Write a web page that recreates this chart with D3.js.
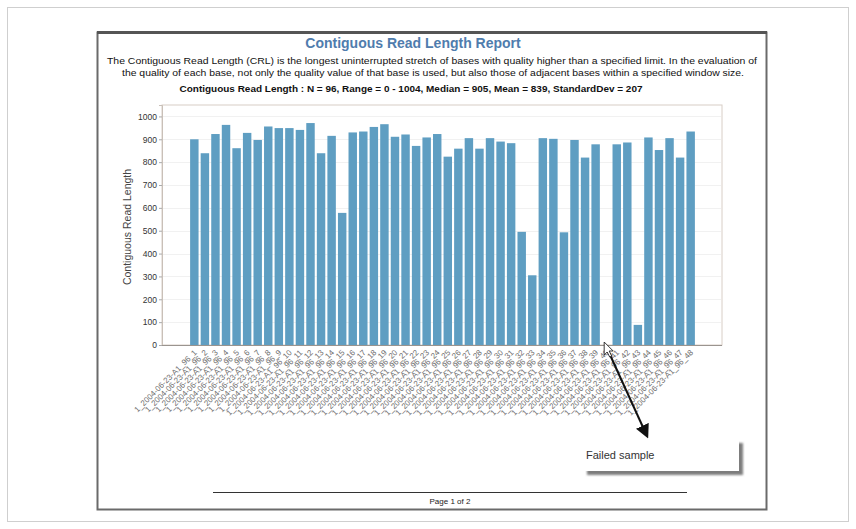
<!DOCTYPE html>
<html>
<head>
<meta charset="utf-8">
<script src="https://cdn.jsdelivr.net/npm/d3@7"></script>
<style>
  html, body { margin: 0; padding: 0; background: #fff; }
  svg { display: block; font-family: Arial, "Liberation Sans", Helvetica, sans-serif; }
</style>
</head>
<body>
<svg id="chart" width="856" height="529"></svg>
<script>
// Sample numbers (1..48) on the x axis
const sampleIds = d3.range(1, 49);
const sampleLabels = sampleIds.map(i => `1_2004-06-23-A1_96_${i}`);

// Contiguous read length per sample (0 = failed read)
const readLengths = [
  900, 839, 923, 963, 861, 928, 897, 956, 949, 949, 941, 971,
  839, 915, 578, 930, 934, 954, 966, 911, 921, 871, 908, 923,
  824, 859, 905, 859, 905, 890, 883, 495, 305, 905, 902, 493,
  897, 820, 878, 0, 878, 886, 88, 908, 853, 905, 820, 934
];

// Y axis ticks
const yTicks = [0, 100, 200, 300, 400, 500, 600, 700, 800, 900, 1000];

const titleText = "Contiguous Read Length Report";
const descLines = [
  "The Contiguous Read Length (CRL) is the longest uninterrupted stretch of bases with quality higher than a specified limit.  In the evaluation of",
  "the quality of each base, not only the quality value of that base is used, but also those of adjacent bases within a specified window size."
];
const statsText = "Contiguous Read Length : N = 96,  Range = 0 - 1004,  Median = 905,  Mean = 839,  StandardDev = 207";
const yAxisTitle = "Contiguous Read Length";
const failedIndex = 39;
const calloutText = "Failed sample";
const footerText = "Page 1 of 2";

const svg = d3.select("#chart");

// page frames
svg.append("rect").attr("x", 7.5).attr("y", 7.5).attr("width", 841).attr("height", 514)
  .attr("fill", "#fff").attr("stroke", "#cfcfcf").attr("stroke-width", 1);
svg.append("rect").attr("x", 97.5).attr("y", 32.5).attr("width", 669).attr("height", 477)
  .attr("fill", "#fff").attr("stroke", "#6a6a6a").attr("stroke-width", 2);
svg.append("line").attr("x1", 97).attr("x2", 767).attr("y1", 32.5).attr("y2", 32.5)
  .attr("stroke", "#555").attr("stroke-width", 3);

// headings
svg.append("text").attr("x", 413).attr("y", 48).attr("text-anchor", "middle")
  .attr("font-size", 14).attr("font-weight", "bold").attr("fill", "#4f7cad").text(titleText);
svg.append("text").attr("x", 432).attr("y", 64).attr("text-anchor", "middle")
  .attr("font-size", 8.6).attr("fill", "#111")
  .attr("textLength", 650).attr("lengthAdjust", "spacingAndGlyphs").text(descLines[0]);
svg.append("text").attr("x", 433).attr("y", 76).attr("text-anchor", "middle")
  .attr("font-size", 8.6).attr("fill", "#111")
  .attr("textLength", 622).attr("lengthAdjust", "spacingAndGlyphs").text(descLines[1]);
svg.append("text").attr("x", 411).attr("y", 92).attr("text-anchor", "middle")
  .attr("font-size", 9.2).attr("font-weight", "bold").attr("fill", "#111")
  .attr("textLength", 463).attr("lengthAdjust", "spacingAndGlyphs").text(statsText);

// plot area
const plot = { left: 162, right: 722, top: 105, bottom: 345 };

const x = d3.scaleBand().domain(sampleIds).range([188, 697]).paddingInner(0.2).paddingOuter(0.2);
const y = d3.scaleLinear().domain([0, 1050]).range([plot.bottom, plot.top]);

svg.append("rect").attr("x", plot.left).attr("y", plot.top)
  .attr("width", plot.right - plot.left).attr("height", plot.bottom - plot.top)
  .attr("fill", "#fff").attr("stroke", "#d8cec6").attr("stroke-width", 1);

// faint gridlines
svg.append("g").selectAll("line").data(yTicks.filter(t => t > 0)).join("line")
  .attr("x1", plot.left + 1).attr("x2", plot.right - 1)
  .attr("y1", d => Math.round(y(d)) + 0.5).attr("y2", d => Math.round(y(d)) + 0.5)
  .attr("stroke", "#f1f1f1");

// y axis
const yAxis = svg.append("g").attr("transform", `translate(${plot.left},0)`)
  .call(d3.axisLeft(y).tickValues(yTicks).tickFormat(d3.format("d")).tickSize(3).tickPadding(2));
yAxis.select(".domain").attr("stroke", "#c9c0b8");
yAxis.selectAll(".tick line").attr("stroke", "#aaa");
yAxis.selectAll(".tick text").attr("font-size", 8.5).attr("fill", "#333")
  .attr("font-family", "Arial, 'Liberation Sans', sans-serif");

svg.append("text").attr("transform", "translate(131,227) rotate(-90)")
  .attr("text-anchor", "middle").attr("font-size", 10.5).attr("fill", "#444").text(yAxisTitle);

// bars
svg.append("g").selectAll("rect").data(readLengths).join("rect")
  .attr("x", (d, i) => x(sampleIds[i]))
  .attr("y", d => y(d))
  .attr("width", x.bandwidth())
  .attr("height", d => y(0) - y(d))
  .attr("fill", "#5f9ec2");

// x axis baseline
svg.append("line").attr("x1", plot.left).attr("x2", plot.right)
  .attr("y1", plot.bottom + 0.5).attr("y2", plot.bottom + 0.5)
  .attr("stroke", "#9a948f").attr("stroke-width", 1.2);

// x labels
svg.append("g").selectAll("text").data(sampleLabels).join("text")
  .attr("transform", (d, i) => `translate(${x(sampleIds[i]) + x.bandwidth() / 2 + 3},${plot.bottom + 8}) rotate(-45)`)
  .attr("text-anchor", "end").attr("font-size", 8).attr("fill", "#6e6e6e")
  .text(d => d);

// callout for the failed sample
const fx = x(sampleIds[failedIndex]) + x.bandwidth() / 2;
const defs = svg.append("defs");
defs.append("filter").attr("id", "shadowBlur").append("feGaussianBlur").attr("stdDeviation", 1.2);
defs.append("marker").attr("id", "arrowHead").attr("viewBox", "0 0 10 10")
  .attr("refX", 8).attr("refY", 5).attr("markerWidth", 7).attr("markerHeight", 7)
  .attr("orient", "auto").append("path").attr("d", "M0,0 L10,5 L0,10 z").attr("fill", "#111");

svg.append("line").attr("x1", fx + 3).attr("y1", plot.bottom + 8)
  .attr("x2", 647).attr("y2", 436)
  .attr("stroke", "#111").attr("stroke-width", 2).attr("marker-end", "url(#arrowHead)");

// pointer cursor
svg.append("path")
  .attr("d", `M${fx - 2},${plot.bottom - 3} l0,13 l3,-3 l2.5,5 l2,-1 l-2.5,-5 l4,0 z`)
  .attr("fill", "#fff").attr("stroke", "#222").attr("stroke-width", 0.9);

svg.append("rect").attr("x", 587).attr("y", 443).attr("width", 156).attr("height", 32)
  .attr("fill", "#7d7d7d").attr("filter", "url(#shadowBlur)");
svg.append("rect").attr("x", 583).attr("y", 439).attr("width", 156).attr("height", 32)
  .attr("fill", "#fff");
svg.append("text").attr("x", 586).attr("y", 459).attr("font-size", 11).attr("fill", "#333")
  .text(calloutText);

// footer
svg.append("line").attr("x1", 213).attr("x2", 687).attr("y1", 492.5).attr("y2", 492.5)
  .attr("stroke", "#333").attr("stroke-width", 1);
svg.append("text").attr("x", 450).attr("y", 504).attr("text-anchor", "middle")
  .attr("font-size", 8).attr("fill", "#222").text(footerText);
</script>
</body>
</html>
